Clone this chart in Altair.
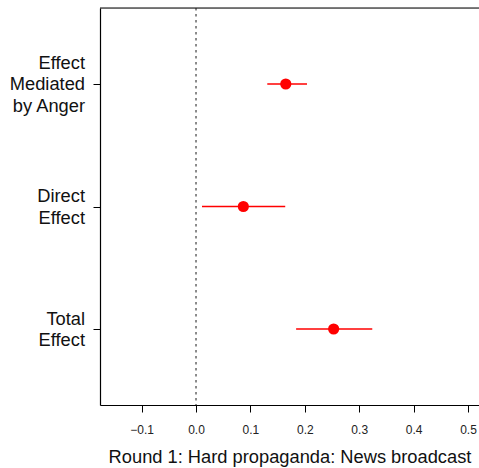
import altair as alt
import pandas as pd

# Mediation estimates with 95% intervals
labels = ["Effect\nMediated\nby Anger", "Direct\nEffect", "Total\nEffect"]
positions = [3, 2, 1]
estimates = [0.165, 0.087, 0.253]
lower = [0.131, 0.011, 0.184]
upper = [0.204, 0.164, 0.324]

x_ticks = [-0.1, 0.0, 0.1, 0.2, 0.3, 0.4, 0.5]
x_title = "Round 1: Hard propaganda: News broadcast"

W, H = 379, 397
FONT = "Liberation Sans"
LABEL_SIZE = 18.3
LINE_H = 21.7

df = pd.DataFrame({"label": labels, "pos": positions, "est": estimates,
                   "lo": lower, "hi": upper})

# One row per label line, with its vertical offset (in px) from the category centre
rows = []
for lab, p in zip(labels, positions):
    lines = lab.split("\n")
    n = len(lines)
    for k, line in enumerate(lines):
        rows.append({"pos": p, "line": line, "dy": round((k - (n - 1) / 2) * LINE_H + 1.5, 2)})
lines_df = pd.DataFrame(rows)

x_scale = alt.Scale(domain=[-0.1765, 0.5202], nice=False, zero=False)
y_scale = alt.Scale(domain=[0.38, 3.62], nice=False, zero=False)

x_axis = alt.Axis(values=x_ticks, format=".1f", grid=False, title=x_title,
                  labelFont=FONT, labelFontSize=12, labelColor="#222",
                  labelPadding=12, tickColor="black", tickSize=7,
                  domainColor="black", domainWidth=1.2,
                  titleFont=FONT, titleFontSize=LABEL_SIZE, titleFontWeight="normal",
                  titleColor="#111", titlePadding=13)
y_axis = alt.Axis(values=positions, labels=False, grid=False, title=None,
                  tickColor="black", tickSize=7, domainColor="black", domainWidth=1.2)

base = alt.Chart(df)

ci = base.mark_rule(color="red", strokeWidth=1.4).encode(
    x=alt.X("lo:Q", scale=x_scale, axis=x_axis),
    x2="hi:Q",
    y=alt.Y("pos:Q", scale=y_scale, axis=y_axis),
)

pts = base.mark_point(filled=True, color="red", opacity=1, size=125, shape="circle").encode(
    x=alt.X("est:Q", scale=x_scale),
    y=alt.Y("pos:Q", scale=y_scale),
)

zero = alt.Chart(pd.DataFrame({"z": [0.0]})).mark_rule(
    color="#666", strokeDash=[2.5, 3.5], strokeWidth=1.5
).encode(x=alt.X("z:Q", scale=x_scale))

top_line = alt.Chart(pd.DataFrame({"z": [0]})).mark_rule(
    color="black", strokeWidth=1.2
).encode(x=alt.value(0), x2=alt.value(W), y=alt.value(0))

# Category labels to the left of the y axis, one layer per line offset
label_layers = []
for dy_val in sorted(lines_df["dy"].unique()):
    sub = lines_df[lines_df["dy"] == dy_val]
    label_layers.append(
        alt.Chart(sub).mark_text(
            align="right", baseline="middle", dy=float(dy_val),
            font=FONT, fontSize=LABEL_SIZE, color="#111",
        ).encode(
            x=alt.value(-15),
            y=alt.Y("pos:Q", scale=y_scale),
            text="line:N",
        )
    )

chart = alt.layer(zero, top_line, ci, pts, *label_layers).properties(
    width=W, height=H,
    autosize=alt.AutoSizeParams(type="none"),
    padding={"left": 100, "top": 8, "right": 0, "bottom": 63},
).configure_view(stroke=None).configure(background="white")

chart.save("out.html", embed_options={"renderer": "svg", "actions": False})
